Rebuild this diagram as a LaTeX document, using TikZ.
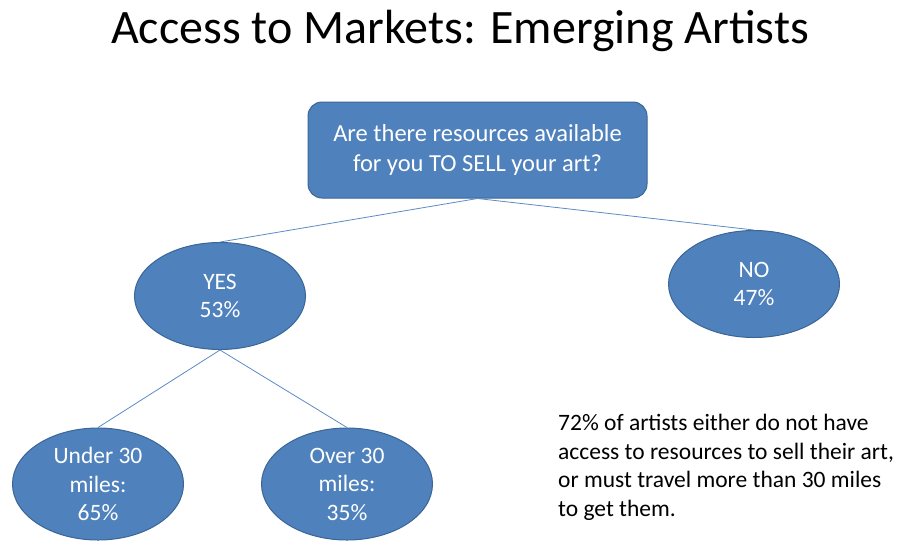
\documentclass[tikz,border=0pt]{standalone}
\usepackage{fontspec}
\setmainfont{Carlito}
\usetikzlibrary{shapes.geometric}

\definecolor{fuell}{HTML}{4F81BD}
\definecolor{rand}{HTML}{3A6596}
\definecolor{linie}{HTML}{5B8BC6}

\def\schrift{\fontsize{23.5}{28.5}\selectfont}

\begin{document}
\begin{tikzpicture}[x=1pt,y=-1pt,
	kasten/.style={draw=rand,line width=1pt,fill=fuell,rounded corners=14pt,
		minimum width=339pt,minimum height=96pt,text=white,align=center,
		font=\fontsize{24.5}{29.5}\selectfont},
	blase/.style={ellipse,draw=rand,line width=1pt,fill=fuell,inner sep=0pt,
		minimum width=171pt,minimum height=107pt,text=white,align=center,font=\schrift},
	ast/.style={draw=linie,line width=0.8pt}]

\useasboundingbox (0,0) rectangle (909,542);

\node (titel) at (460,31) {\fontsize{48}{56}\selectfont Access to Markets: Emerging Artists};

\node[kasten] (frage) at (477.5,150) {Are there resources available\\for you TO SELL your art?};

\node[blase] (ja) at (220,296) {YES\\53\%};
\node[blase] (nein) at (754,284) {NO\\47\%};

\node[blase,minimum height=112pt] (unter) at (98,484) {Under 30\\miles:\\65\%};
\node[blase,minimum height=112pt] (ueber) at (347,484) {Over 30\\miles:\\35\%};

% Verbindungen
\draw[ast] (frage.south) -- (ja.north);
\draw[ast] (frage.south) -- (nein.north);
\draw[ast] (ja.south) -- (unter.north);
\draw[ast] (ja.south) -- (ueber.north);

\node[anchor=north west,align=left,font=\schrift,inner sep=0pt] (fazit) at (558,414)
	{72\% of artists either do not have\\access to resources to sell their art,\\or must travel more than 30 miles\\to get them.};

\end{tikzpicture}
\end{document}
